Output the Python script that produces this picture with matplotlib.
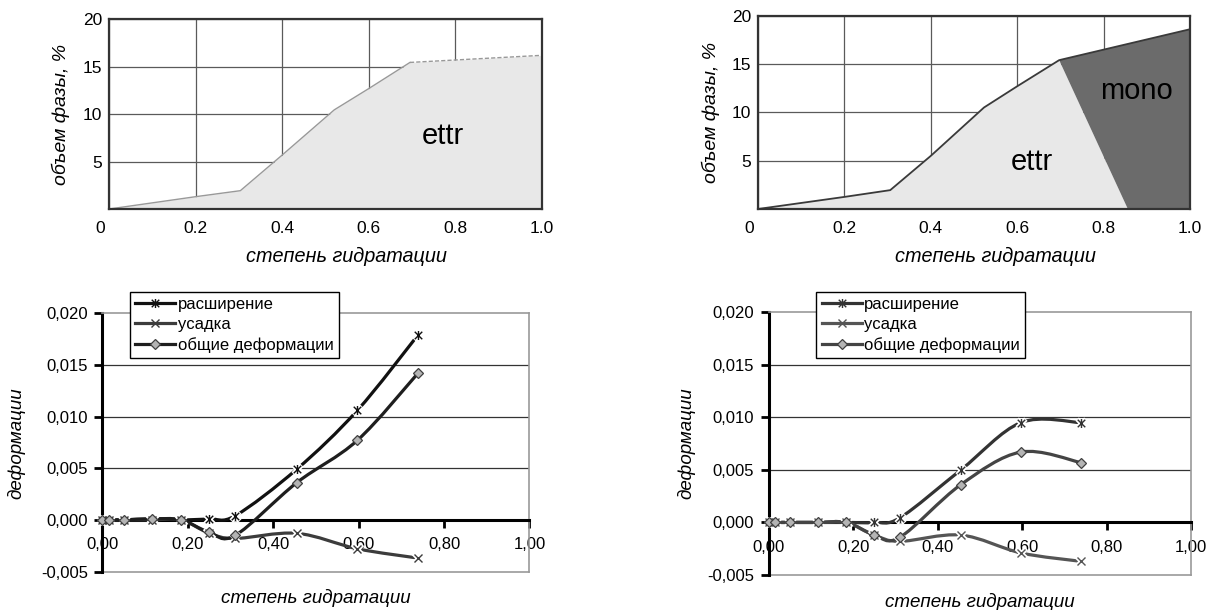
import numpy as np
import matplotlib
matplotlib.use('Agg')
import matplotlib.pyplot as plt
from matplotlib.path import Path
from matplotlib.patches import PathPatch
from matplotlib.lines import Line2D
from matplotlib.ticker import FuncFormatter
import matplotlib.transforms as mtransforms

plt.rcParams['font.family'] = ['Liberation Sans', 'DejaVu Sans']

# --- phase volume (top row) ---
ettr_x = [0.0, 0.2, 0.303, 0.4, 0.52, 0.6, 0.695, 1.0]
ettr_y = [0.0, 1.3, 1.93, 5.7, 10.45, 12.7, 15.45, 16.2]

ettr2_x = [0.0, 0.2, 0.306, 0.4, 0.523, 0.6, 0.697]
ettr2_y = [0.0, 1.25, 1.95, 5.5, 10.5, 12.7, 15.4]
mono_end = (1.0, 18.6)
mono_foot = 0.856

# --- deformations (bottom row) ---
hydr = [0.0, 0.016, 0.051, 0.117, 0.184, 0.25, 0.311, 0.455, 0.597, 0.739]

exp_l = [0, 0, 0, 0.0001, 0, 0.0001, 0.0004, 0.0049, 0.0106, 0.0179]
shr_l = [0, 0, 0, 0, 0, -0.0013, -0.0018, -0.0013, -0.0028, -0.0037]
tot_l = [0, 0, 0, 0.0001, 0, -0.0012, -0.0015, 0.0036, 0.0077, 0.0142]

exp_r = [0, 0, 0, 0, 0, 0, 0.00045, 0.0050, 0.0095, 0.0095]
shr_r = [0, 0, 0, 0, 0, -0.0012, -0.0018, -0.0012, -0.0029, -0.0037]
tot_r = [0, 0, 0, 0, 0, -0.0012, -0.0014, 0.0036, 0.0067, 0.0057]

names = ['расширение', 'усадка', 'общие деформации']
xlab = 'степень гидратации'

fig = plt.figure(figsize=(12.14, 6.10), dpi=100)

# x with a vertical bar through it
star = Path([(-1, -1), (1, 1), (-1, 1), (1, -1), (0, -1.2), (0, 1.2)],
            [Path.MOVETO, Path.LINETO] * 3)


def smooth_path(x, y):
    # bezier segments through the points, excel-style smoothing
    pts = np.column_stack([x, y]).astype(float)
    n = len(pts)
    verts = [pts[0]]
    codes = [Path.MOVETO]
    for i in range(n - 1):
        p0 = pts[max(i - 1, 0)]
        p1 = pts[i]
        p2 = pts[i + 1]
        p3 = pts[min(i + 2, n - 1)]
        verts += [p1 + (p2 - p0) / 6, p2 - (p3 - p1) / 6, p2]
        codes += [Path.CURVE4] * 3
    return Path(verts, codes)


def phase_axes(rect):
    ax = fig.add_axes(rect)
    ax.set_xlim(0, 1)
    ax.set_ylim(0, 20)
    ax.set_xticks([0, 0.2, 0.4, 0.6, 0.8, 1.0])
    ax.set_xticklabels(['0', '0.2', '0.4', '0.6', '0.8', '1.0'])
    ax.set_yticks([5, 10, 15, 20])
    ax.set_yticklabels(['5', '10', '15', '20'])
    ax.tick_params(length=0, labelsize=12.5)
    ax.tick_params(axis='x', pad=9)
    ax.tick_params(axis='y', pad=5)
    ax.grid(True, color='#5a5a5a', lw=0.9)
    ax.set_axisbelow(True)
    for s in ax.spines.values():
        s.set_color('#333333')
        s.set_linewidth(1.6)
        s.set_zorder(5)
    # first label sits a bit left of the corner
    lbl = ax.get_xticklabels()[0]
    lbl.set_transform(lbl.get_transform() +
                      mtransforms.ScaledTranslation(-0.09, 0, fig.dpi_scale_trans))
    return ax


# top left: ettr only
ax1 = phase_axes([0.0900, 0.6574, 0.3564, 0.3110])
ax1.fill_between(ettr_x, ettr_y, 0, color='#e8e8e8', lw=0, zorder=2)
ax1.plot(ettr_x[:-1], ettr_y[:-1], color='#999999', lw=1.0, zorder=3)
ax1.plot(ettr_x[-2:], ettr_y[-2:], color='#999999', lw=1.0, ls=(0, (3, 1.5)), zorder=3)
ax1.text(0.771, 6.85, 'ettr', fontsize=21, ha='center', va='baseline')

# top right: ettr + mono
ax2 = phase_axes([0.6244, 0.6574, 0.3559, 0.3169])
ex = ettr2_x + [mono_foot]
ey = ettr2_y + [0]
ax2.fill(ex, ey, color='#e8e8e8', lw=0, zorder=2)
ax2.fill([ettr2_x[-1], mono_end[0], mono_end[0], mono_foot],
         [ettr2_y[-1], mono_end[1], 0, 0], color='#6b6b6b', lw=0, zorder=2)
ax2.plot(ettr2_x + [mono_end[0]], ettr2_y + [mono_end[1]], color='#3a3a3a', lw=1.3, zorder=3)
ax2.text(0.633, 4.03, 'ettr', fontsize=21, ha='center', va='baseline')
ax2.text(0.877, 11.35, 'mono', fontsize=21, ha='center', va='baseline')

fig.text(0.0503, 0.8131, 'объем фазы, %', rotation=90, style='italic',
         fontsize=14, ha='center', va='center')
fig.text(0.2854, 0.5792, xlab, style='italic', fontsize=14.3, ha='center', va='center')
fig.text(0.5857, 0.8164, 'объем фазы, %', rotation=90, style='italic',
         fontsize=14, ha='center', va='center')
fig.text(0.8200, 0.5792, xlab, style='italic', fontsize=14.3, ha='center', va='center')


def deform_axes(rect, series, colors, legend_pos):
    ax = fig.add_axes(rect)
    ax.set_xlim(0, 1)
    ax.set_ylim(-0.005, 0.020)
    ax.set_xticks([0, 0.2, 0.4, 0.6, 0.8, 1.0])
    ax.set_yticks([-0.005, 0, 0.005, 0.010, 0.015, 0.020])
    ax.xaxis.set_major_formatter(FuncFormatter(lambda v, p: f'{v:.2f}'.replace('.', ',')))
    ax.yaxis.set_major_formatter(FuncFormatter(lambda v, p: f'{v:.3f}'.replace('.', ',')))
    ax.tick_params(labelsize=12, width=2, length=5.5, color='black')
    ax.tick_params(axis='x', direction='out', pad=7)
    ax.tick_params(axis='y', direction='out', pad=5)
    ax.spines['bottom'].set_position(('data', 0))
    ax.spines['bottom'].set_linewidth(2.2)
    ax.spines['left'].set_linewidth(2.2)
    for s in ['top', 'right']:
        ax.spines[s].set_color('#999999')
        ax.spines[s].set_linewidth(1.2)
    ax.axhline(-0.005, color='#999999', lw=1.2, zorder=1, clip_on=False)
    for g in [0.005, 0.010, 0.015]:
        ax.axhline(g, color='#333333', lw=0.9, zorder=1)

    markers = [star, 'x', 'D']
    sizes = [6.5, 6, 4.8]
    handles = []
    for ys, col, mk, ms in zip(series, colors, markers, sizes):
        ax.add_patch(PathPatch(smooth_path(hydr, ys), fill=False, edgecolor=col,
                               lw=2.3, zorder=3, capstyle='round'))
        if isinstance(mk, str) and mk == 'D':
            ax.plot(hydr, ys, ls='none', marker='D', ms=ms, mfc='#b4b4b4',
                    mec='#404040', mew=0.9, zorder=4, clip_on=False)
            handles.append(Line2D([], [], color=col, lw=2.3, marker='D', ms=ms,
                                  mfc='#b4b4b4', mec='#404040', mew=0.9))
        else:
            ax.plot(hydr, ys, ls='none', marker=mk, ms=ms + 1, mec='white',
                    mew=3.5, zorder=4, clip_on=False)
            ax.plot(hydr, ys, ls='none', marker=mk, ms=ms, mec=col,
                    mew=1.0, zorder=4, clip_on=False)
            handles.append(Line2D([], [], color=col, lw=2.3, marker=mk, ms=ms,
                                  mec=col, mew=1.0))
    leg = ax.legend(handles, names, loc='upper left', bbox_to_anchor=legend_pos,
                    bbox_transform=fig.transFigure, borderaxespad=0, fontsize=12,
                    frameon=True, fancybox=False, framealpha=1, edgecolor='black',
                    handlelength=2.4, handletextpad=0.15, labelspacing=0.3,
                    borderpad=0.32, numpoints=1)
    leg.get_frame().set_linewidth(1.0)
    leg.set_zorder(10)
    return ax


ax3 = deform_axes([0.0844, 0.0631, 0.3517, 0.4233], [exp_l, shr_l, tot_l],
                  ['#111111', '#3c3c3c', '#1e1e1e'], (0.1071, 0.5218))
ax4 = deform_axes([0.6332, 0.0574, 0.3479, 0.4307], [exp_r, shr_r, tot_r],
                  ['#333333', '#555555', '#444444'], (0.6725, 0.5218))

fig.text(0.0132, 0.2738, 'деформации', rotation=90, style='italic',
         fontsize=13.5, ha='center', va='center')
fig.text(0.2603, 0.0197, xlab, style='italic', fontsize=13.5, ha='center', va='center')
fig.text(0.5655, 0.2738, 'деформации', rotation=90, style='italic',
         fontsize=13.5, ha='center', va='center')
fig.text(0.8072, 0.0136, xlab, style='italic', fontsize=13.5, ha='center', va='center')

fig.savefig('out.png', dpi=100)
